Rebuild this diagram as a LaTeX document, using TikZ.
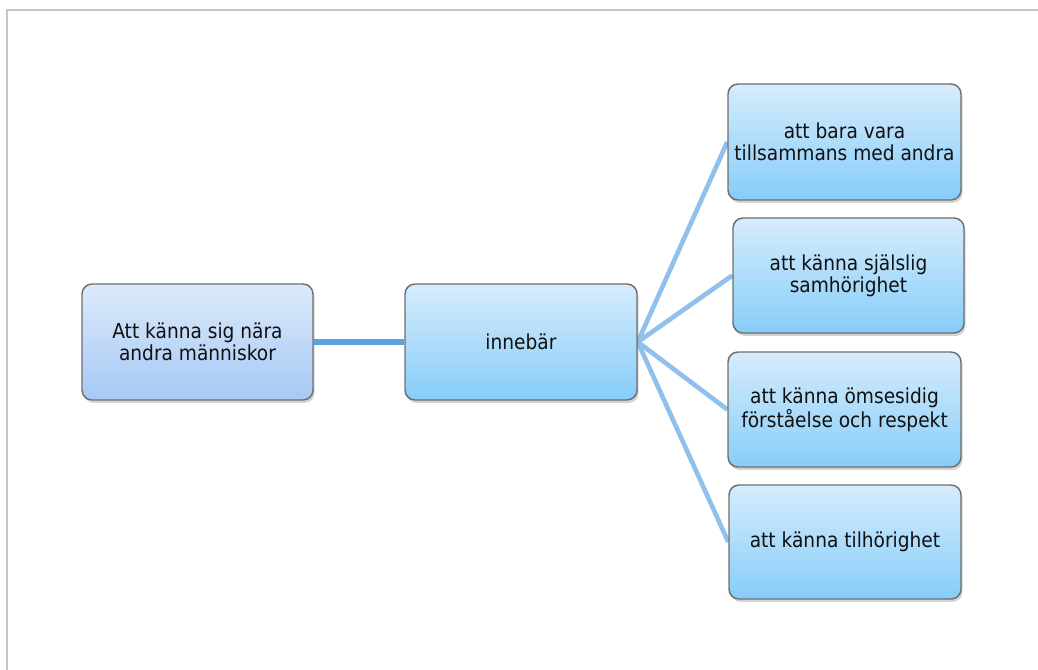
\documentclass[tikz,border=0pt]{standalone}
\usepackage{fontspec}
\setmainfont{DejaVu Sans Condensed}
\usetikzlibrary{shadows,backgrounds}

\definecolor{frameGray}{HTML}{C6C6C6}
\definecolor{boxBorder}{HTML}{6E6E6E}
\definecolor{txtDark}{HTML}{111111}
\definecolor{leftTop}{HTML}{DCE9FB}
\definecolor{leftBot}{HTML}{A6C9F6}
\definecolor{boxTop}{HTML}{D6ECFC}
\definecolor{boxBot}{HTML}{86CDF9}
\definecolor{mainLink}{HTML}{5BA3DF}
\definecolor{fanLink}{HTML}{8FC1EC}

\tikzset{
  card/.style={draw=boxBorder, line width=1.1pt, rounded corners=7.5pt,
    top color=boxTop, bottom color=boxBot, text=txtDark,
    align=center, inner sep=2pt,
    font=\fontsize{15.5}{16.8}\selectfont,
    drop shadow={opacity=0.35, shadow xshift=1.2pt, shadow yshift=-2.2pt}},
  rootcard/.style={card, top color=leftTop, bottom color=leftBot},
  mainlink/.style={draw=mainLink, line width=3.8pt},
  fanlink/.style={draw=fanLink, line width=3.5pt}
}

\begin{document}
\begin{tikzpicture}[x=0.75pt, y=-0.75pt]
  \useasboundingbox (0,0) rectangle (1038,670);

  % page frame, top and left edges
  \draw[frameGray, line width=1.5pt] (7,670) -- (7,10) -- (1038,10);

  % boxes
  \node[rootcard, minimum width=231*0.75pt, minimum height=116*0.75pt]
    (root) at (197.5,342) {Att känna sig nära\\andra människor};
  \node[card, minimum width=232*0.75pt, minimum height=116*0.75pt]
    (mid) at (521,342) {innebär};
  \node[card, minimum width=233*0.75pt, minimum height=116*0.75pt]
    (r1) at (844.5,142) {att bara vara\\tillsammans med andra};
  \node[card, minimum width=231*0.75pt, minimum height=115*0.75pt]
    (r2) at (848.5,275.5) {att känna själslig\\samhörighet};
  \node[card, minimum width=233*0.75pt, minimum height=115*0.75pt]
    (r3) at (844.5,409.5) {att känna ömsesidig\\förståelse och respekt};
  \node[card, minimum width=232*0.75pt, minimum height=114*0.75pt]
    (r4) at (845,542) {att känna tilhörighet};

  % connectors, kept behind the boxes
  \begin{scope}[on background layer]
    \draw[mainlink] (root.east) -- (mid.west);
    \draw[fanlink] (mid.east) -- (r1.west);
    \draw[fanlink] (mid.east) -- (r2.west);
    \draw[fanlink] (mid.east) -- (r3.west);
    \draw[fanlink] (mid.east) -- (r4.west);
  \end{scope}
\end{tikzpicture}
\end{document}
